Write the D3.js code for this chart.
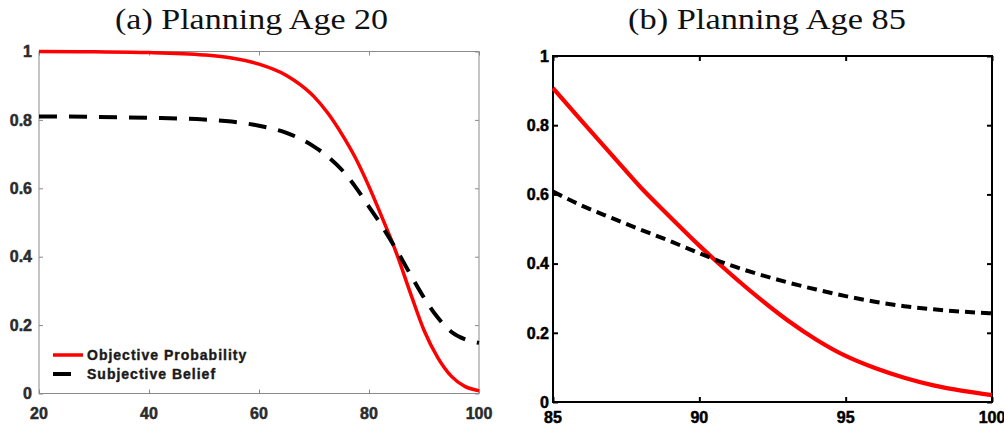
<!DOCTYPE html>
<html>
<head>
<meta charset="utf-8">
<script src="https://cdn.jsdelivr.net/npm/d3@7/dist/d3.min.js"></script>
<style>
  html, body { margin: 0; padding: 0; background: #fff; }
  svg { display: block; }
  .sans { font-family: "Liberation Sans", Arial, Helvetica, sans-serif; font-weight: 700; }
  .serif { font-family: "Liberation Serif", "Times New Roman", serif; }
</style>
</head>
<body>
<svg id="chart" width="1004" height="428"></svg>
<script>
// ---------- DATA ----------
const titleA = "(a) Planning Age 20";
const titleB = "(b) Planning Age 85";
const legendLabels = ["Objective Probability", "Subjective Belief"];

const agesA = [20, 30, 40, 50, 55, 60, 65, 67.5, 70, 72.5, 75, 77.5, 80, 82.5, 85, 87.5, 90, 92.5, 95, 97.5, 100];
const objectiveA = [1.0, 0.999, 0.997, 0.99, 0.981, 0.963, 0.93, 0.903, 0.868, 0.82, 0.76, 0.69, 0.605, 0.51, 0.41, 0.295, 0.185, 0.105, 0.05, 0.02, 0.008];
const subjectiveA = [0.81, 0.809, 0.806, 0.801, 0.795, 0.783, 0.762, 0.745, 0.722, 0.693, 0.655, 0.605, 0.546, 0.486, 0.42, 0.349, 0.28, 0.222, 0.18, 0.158, 0.148];

const agesB = [85, 86, 87, 88, 89, 90, 91, 92, 93, 94, 95, 96, 97, 98, 99, 100];
const objectiveB = [0.907, 0.81, 0.715, 0.62, 0.535, 0.452, 0.375, 0.303, 0.237, 0.18, 0.133, 0.098, 0.07, 0.048, 0.032, 0.02];
const subjectiveB = [0.608, 0.567, 0.532, 0.498, 0.465, 0.43, 0.397, 0.37, 0.346, 0.325, 0.306, 0.29, 0.277, 0.268, 0.261, 0.256];

const xTicksA = [20, 40, 60, 80, 100];
const xTicksB = [85, 90, 95, 100];
const yTicks = [0, 0.2, 0.4, 0.6, 0.8, 1];
const yTickLabels = ["0", "0.2", "0.4", "0.6", "0.8", "1"];

// ---------- DRAW ----------
const svg = d3.select("#chart");

function panel(cfg) {
  const g = svg.append("g");
  const x = d3.scaleLinear().domain(cfg.xDomain).range([cfg.x0, cfg.x1]);
  const y = d3.scaleLinear().domain([0, 1]).range([cfg.y1, cfg.y0]);
  const tl = cfg.tick;

  g.append("rect")
    .attr("x", cfg.x0).attr("y", cfg.y0)
    .attr("width", cfg.x1 - cfg.x0).attr("height", cfg.y1 - cfg.y0)
    .attr("fill", "none").attr("stroke", cfg.axisColor).attr("stroke-width", cfg.axisWidth);

  const xAxisB = d3.axisBottom(x).tickValues(cfg.xTicks).tickSizeInner(-tl).tickSizeOuter(0).tickFormat("");
  const xAxisT = d3.axisTop(x).tickValues(cfg.xTicks).tickSizeInner(-tl).tickSizeOuter(0).tickFormat("");
  const yAxisL = d3.axisLeft(y).tickValues(yTicks).tickSizeInner(-tl).tickSizeOuter(0).tickFormat("");
  const yAxisR = d3.axisRight(y).tickValues(yTicks).tickSizeInner(-tl).tickSizeOuter(0).tickFormat("");
  [[xAxisB, `translate(0,${cfg.y1})`], [xAxisT, `translate(0,${cfg.y0})`],
   [yAxisL, `translate(${cfg.x0},0)`], [yAxisR, `translate(${cfg.x1},0)`]].forEach(([ax, tr]) => {
    const a = g.append("g").attr("transform", tr).call(ax);
    a.select(".domain").remove();
    a.selectAll("line").attr("stroke", cfg.axisColor).attr("stroke-width", cfg.axisWidth);
  });

  g.selectAll(".xl").data(cfg.xTicks).enter().append("text")
    .attr("class", "sans")
    .attr("x", d => x(d)).attr("y", cfg.xLabelY)
    .attr("text-anchor", "middle")
    .attr("font-size", 16)
    .attr("fill", cfg.labelColor)
    .attr("stroke", cfg.labelColor).attr("stroke-width", 0.5)
    .text(d => d);
  g.selectAll(".yl").data(yTicks).enter().append("text")
    .attr("class", "sans")
    .attr("x", cfg.x0 - cfg.yLabelGap).attr("y", d => y(d))
    .attr("dy", "0.36em")
    .attr("text-anchor", "end")
    .attr("font-size", 16)
    .attr("fill", cfg.labelColor)
    .attr("stroke", cfg.labelColor).attr("stroke-width", 0.5)
    .text((d, i) => yTickLabels[i]);

  g.append("text")
    .attr("class", "serif")
    .attr("x", cfg.titleX).attr("y", 28.5)
    .attr("text-anchor", "middle")
    .attr("font-size", 29)
    .attr("textLength", cfg.titleW).attr("lengthAdjust", "spacingAndGlyphs")
    .attr("fill", "#111")
    .text(cfg.title);

  const line = d3.line().x(d => x(d[0])).y(d => y(d[1])).curve(d3.curveMonotoneX);
  const clipId = "clip" + cfg.id;
  g.append("clipPath").attr("id", clipId).append("rect")
    .attr("x", cfg.x0 - 1).attr("y", cfg.y0 - 4).attr("width", cfg.x1 - cfg.x0 + 2).attr("height", cfg.y1 - cfg.y0 + 8);

  g.append("path")
    .datum(cfg.ages.map((a, i) => [a, cfg.obj[i]]))
    .attr("d", line).attr("fill", "none")
    .attr("stroke", "#ff0000").attr("stroke-width", cfg.redW)
    .attr("clip-path", `url(#${clipId})`);
  g.append("path")
    .datum(cfg.ages.map((a, i) => [a, cfg.subj[i]]))
    .attr("d", line).attr("fill", "none")
    .attr("stroke", "#000").attr("stroke-width", cfg.blackW)
    .attr("stroke-dasharray", cfg.dash)
    .attr("clip-path", `url(#${clipId})`);

  return { g, x, y };
}

const A = panel({
  id: "A", xDomain: [20, 100], x0: 39, x1: 479, y0: 51.5, y1: 393.5,
  xTicks: xTicksA, tick: 4, axisColor: "#8a8a8a", axisWidth: 1, labelColor: "#2b2b2b",
  xLabelY: 419, yLabelGap: 7, title: titleA, titleX: 251.5, titleW: 273,
  ages: agesA, obj: objectiveA, subj: subjectiveA, redW: 3.5, blackW: 4, dash: "18,12"
});

const B = panel({
  id: "B", xDomain: [85, 100], x0: 553, x1: 992, y0: 56, y1: 402,
  xTicks: xTicksB, tick: 5, axisColor: "#000", axisWidth: 2, labelColor: "#000",
  xLabelY: 423, yLabelGap: 4, title: titleB, titleX: 767, titleW: 278,
  ages: agesB, obj: objectiveB, subj: subjectiveB, redW: 4.2, blackW: 4, dash: "10,6"
});

const leg = A.g.append("g");
const legRows = [
  { label: legendLabels[0], color: "#ff0000", dash: null, w: 3.5, y: 355 },
  { label: legendLabels[1], color: "#000", dash: "18,12", w: 4, y: 374 }
];
legRows.forEach(r => {
  leg.append("line").attr("x1", 53).attr("x2", 83).attr("y1", r.y).attr("y2", r.y)
    .attr("stroke", r.color).attr("stroke-width", r.w)
    .attr("stroke-dasharray", r.dash);
  leg.append("text").attr("class", "sans")
    .attr("x", 87).attr("y", r.y).attr("dy", "0.36em")
    .attr("font-size", 14)
    .attr("letter-spacing", 1)
    .attr("fill", "#1a1a1a")
    .attr("stroke", "#1a1a1a").attr("stroke-width", 0.4)
    .text(r.label);
});
</script>
</body>
</html>
